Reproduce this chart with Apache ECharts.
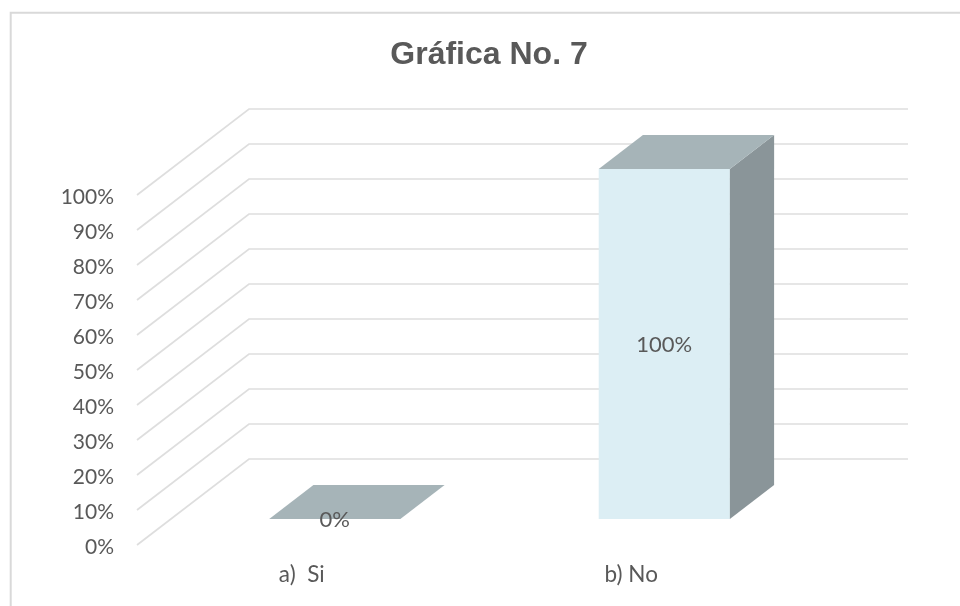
<!DOCTYPE html>
<html>
<head>
<meta charset="utf-8">
<script src="https://cdn.jsdelivr.net/npm/echarts@6/dist/echarts.min.js"></script>
<style>html,body{margin:0;padding:0;background:#fff}#chart{width:960px;height:606px}</style>
</head>
<body>
<div id="chart"></div>
<script>
const titleText = 'Gráfica No. 7';
const categories = ['a)  Si', 'b) No'];
const percentValues = [0, 100];
const gridTicks = [0, 10, 20, 30, 40, 50, 60, 70, 80, 90, 100];

// Oblique projection of the chart's floor: full depth and the slice a bar occupies.
const DEPTH_X = 112, DEPTH_Y = -86;
const BAR_FRONT_X = 0.295, BAR_FRONT_Y = 0.303, BAR_DEPTH = 0.395;
const TEXT = '#595959', GRID_LINE = '#dedede';

const chart = echarts.init(document.getElementById('chart'), null, { renderer: 'canvas' });

function renderWall(params, api) {
  const cs = params.coordSys;
  const y = api.coord([0, api.value(0)])[1];
  return {
    type: 'polyline',
    silent: true,
    shape: { points: [
      [cs.x, y],
      [cs.x + DEPTH_X, y + DEPTH_Y],
      [cs.x + cs.width + DEPTH_X, y + DEPTH_Y]
    ] },
    style: { stroke: GRID_LINE, lineWidth: 1.7, fill: null }
  };
}

function renderBox(params, api) {
  const center = api.coord([api.value(0), 0]);
  const top = api.coord([api.value(0), api.value(1)]);
  const w = api.size([1, 0])[0] * 0.398;
  const fx = BAR_FRONT_X * DEPTH_X, fy = BAR_FRONT_Y * DEPTH_Y;
  const dx = BAR_DEPTH * DEPTH_X, dy = BAR_DEPTH * DEPTH_Y;
  const l = center[0] + fx - w / 2, r = l + w;
  const b = center[1] + fy, t = top[1] + fy;
  const children = [];
  if (b - t > 0) {
    children.push({ type: 'polygon', shape: { points: [[l, t], [r, t], [r, b], [l, b]] },
      style: { fill: '#dceef4' } });
    children.push({ type: 'polygon', shape: { points: [[r, t], [r + dx, t + dy], [r + dx, b + dy], [r, b]] },
      style: { fill: '#8a9599' } });
  }
  children.push({ type: 'polygon', shape: { points: [[l, t], [l + dx, t + dy], [r + dx, t + dy], [r, t]] },
    style: { fill: '#a6b4b8' } });
  children.push({ type: 'text', z2: 10, style: {
    x: (l + r) / 2, y: (t + b) / 2 + 1, text: api.value(1) + '%',
    align: 'center', verticalAlign: 'middle',
    font: '22px Lato', fill: TEXT
  } });
  return { type: 'group', children };
}

chart.setOption({
  animation: false,
  backgroundColor: '#fff',
  title: {
    text: titleText, left: 484, top: 34, textAlign: 'center',
    textStyle: { fontFamily: 'Liberation Sans', fontWeight: 'bold', fontSize: 32, color: TEXT }
  },
  graphic: [{
    type: 'polyline', silent: true, z: -10,
    shape: { points: [[10.7, 606], [10.7, 12.7], [960, 12.7]] },
    style: { stroke: '#d9d9d9', lineWidth: 2, fill: null }
  }],
  grid: { left: 137, right: 164, top: 195, bottom: 61 },
  xAxis: {
    type: 'category', data: categories,
    axisLine: { show: false }, axisTick: { show: false }, splitLine: { show: false },
    axisLabel: { color: TEXT, fontFamily: 'Lato', fontSize: 22.5, margin: 18 }
  },
  yAxis: {
    type: 'value', min: 0, max: 100, interval: 10,
    axisLine: { show: false }, axisTick: { show: false }, splitLine: { show: false },
    axisLabel: { color: TEXT, fontFamily: 'Lato', fontSize: 21, margin: 23, verticalAlign: 'top', lineHeight: 4, formatter: '{value}%' }
  },
  series: [
    { type: 'custom', clip: false, z: 1, data: gridTicks.map(v => [v]), encode: { y: 0 },
      coordinateSystem: 'cartesian2d', renderItem: renderWall },
    { type: 'custom', clip: false, z: 2, data: categories.map((c, i) => [i, percentValues[i]]),
      encode: { x: 0, y: 1 }, renderItem: renderBox }
  ]
});
</script>
</body>
</html>
